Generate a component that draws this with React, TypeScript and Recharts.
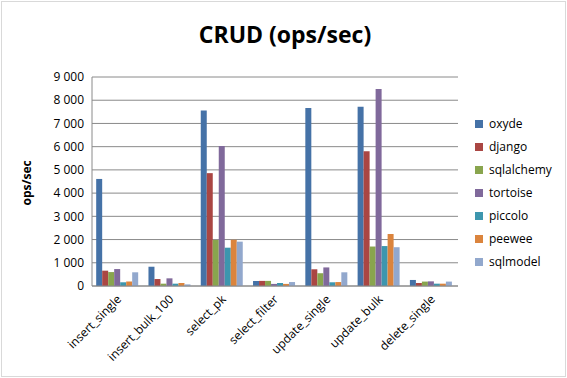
import { Bar, BarChart, CartesianGrid, XAxis, YAxis } from "recharts";

const categories = [
  "insert_single",
  "insert_bulk_100",
  "select_pk",
  "select_filter",
  "update_single",
  "update_bulk",
  "delete_single",
];

const oxyde = [4610, 830, 7560, 220, 7660, 7720, 260];
const django = [660, 300, 4860, 220, 720, 5800, 130];
const sqlalchemy = [600, 100, 1980, 220, 550, 1700, 190];
const tortoise = [730, 330, 6030, 90, 800, 8480, 200];
const piccolo = [160, 100, 1650, 130, 160, 1720, 100];
const peewee = [190, 130, 1990, 90, 170, 2240, 100];
const sqlmodel = [590, 70, 1910, 170, 590, 1670, 190];

const yTicks = [0, 1000, 2000, 3000, 4000, 5000, 6000, 7000, 8000, 9000];

const series = [
  { key: "oxyde", values: oxyde, color: "#4572A7" },
  { key: "django", values: django, color: "#AA4643" },
  { key: "sqlalchemy", values: sqlalchemy, color: "#89A54E" },
  { key: "tortoise", values: tortoise, color: "#80699B" },
  { key: "piccolo", values: piccolo, color: "#3D96AE" },
  { key: "peewee", values: peewee, color: "#DB843D" },
  { key: "sqlmodel", values: sqlmodel, color: "#92A8CD" },
];

const data = categories.map((name, i) => {
  const row: Record<string, string | number> = { name };
  series.forEach((s) => {
    row[s.key] = s.values[i];
  });
  return row;
});

const fmt = (v: number) => String(v).replace(/\B(?=(\d{3})+(?!\d))/g, " ");

const FONT = "'Open Sans', 'Noto Sans', sans-serif";

const XTick = ({ x, y, payload }: any) => (
  <text
    x={x + 4}
    y={y + 6}
    textAnchor="end"
    transform={`rotate(-45 ${x + 4} ${y + 6})`}
    fontSize={12}
    fill="#000"
    fontFamily={FONT}
  >
    {payload.value}
  </text>
);

export default function App() {
  return (
    <div style={{ position: "absolute", left: 0, top: 0, width: 567, height: 378, background: "#fff", fontFamily: FONT }}>
      <style>{`body { margin: 0; }`}</style>
      <div
        style={{
          position: "absolute",
          left: 1,
          top: 1,
          width: 563,
          height: 374,
          border: "1px solid #d9d9d9",
        }}
      />
      <div
        style={{
          position: "absolute",
          top: 18,
          left: 0,
          width: 570,
          textAlign: "center",
          fontSize: 23,
          fontWeight: 700,
          color: "#000",
        }}
      >
        CRUD (ops/sec)
      </div>
      <div style={{ position: "absolute", left: 475, top: 112, fontSize: 12, color: "#000" }}>
        {series.map((s) => (
          <div key={s.key} style={{ display: "flex", alignItems: "center", height: 23 }}>
            <span style={{ width: 8, height: 8, background: s.color, marginRight: 6, display: "inline-block" }} />
            <span>{s.key}</span>
          </div>
        ))}
      </div>
      <BarChart
        width={567}
        height={378}
        data={data}
        margin={{ top: 77, right: 109, bottom: 0, left: 0 }}
        barCategoryGap="8%"
        barGap={0}
        style={{ position: "absolute", left: 0, top: 0 }}
      >
        <CartesianGrid stroke="#8a8a8a" vertical={false} />
        <XAxis
          dataKey="name"
          interval={0}
          tick={<XTick />}
          tickLine={false}
          axisLine={{ stroke: "#8a8a8a" }}
          height={92}
        />
        <YAxis
          width={92}
          domain={[0, 9000]}
          ticks={yTicks}
          interval={0}
          tickFormatter={fmt}
          tick={{ fontSize: 12, fill: "#000", fontFamily: FONT }}
          tickLine={false}
          axisLine={{ stroke: "#8a8a8a" }}
          label={{
            value: "ops/sec",
            angle: -90,
            position: "insideLeft",
            dx: 22,
            dy: 24,
            style: { fontSize: 12, fontWeight: 700, fill: "#000", fontFamily: FONT },
          }}
        />
        {series.map((s) => (
          <Bar key={s.key} dataKey={s.key} fill={s.color} isAnimationActive={false} />
        ))}
      </BarChart>
    </div>
  );
}
